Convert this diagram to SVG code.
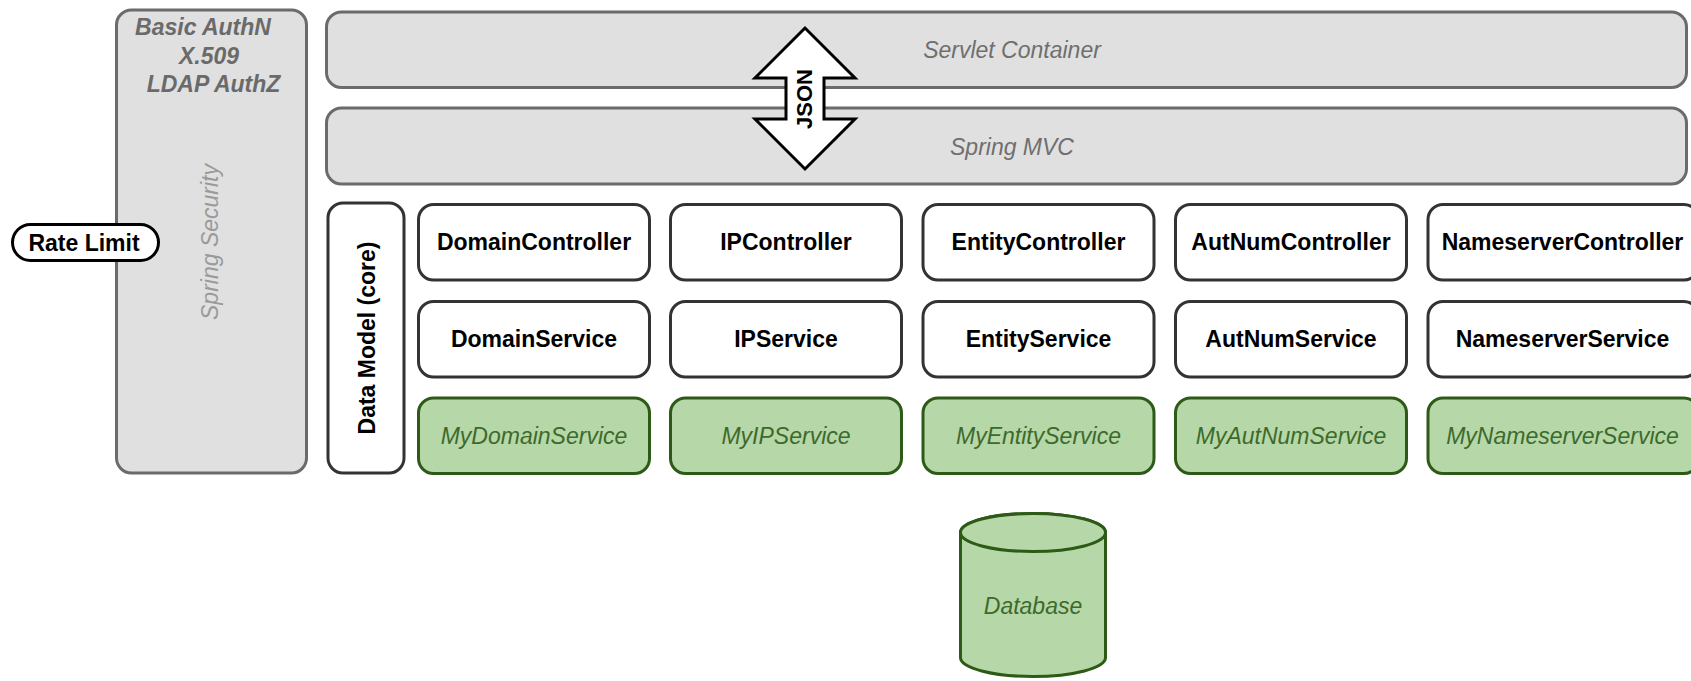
<svg xmlns="http://www.w3.org/2000/svg" width="1691" height="681" viewBox="0 0 1691 681">
<style>
text{font-family:"Liberation Sans",Arial,sans-serif;font-size:23px;text-anchor:middle}
.gray{fill:#e0e0e0;stroke:#6b6b6b;stroke-width:3}
.box{fill:#ffffff;stroke:#333333;stroke-width:3}
.green{fill:#b6d7a8;stroke:#2e5a17;stroke-width:3}
.gt{fill:#6f6f6f;font-style:italic}
.st{fill:#9a9a9a;font-style:italic}
.bt{fill:#000000;font-weight:bold}
.mt{fill:#3d6a2c;font-style:italic}
.auth{fill:#6a6a6a;font-style:italic;font-weight:bold}
</style>
<rect width="1691" height="681" fill="#ffffff"/>
<g id="spring-security">
<rect class="gray" x="116.5" y="10" width="190" height="463" rx="15"/>
<text class="auth" x="203" y="35">Basic AuthN</text>
<text class="auth" x="209" y="64">X.509</text>
<text class="auth" x="213.5" y="92">LDAP AuthZ</text>
<text class="st" transform="translate(218,242) rotate(-90)">Spring Security</text>
</g>
<g id="rate-limit">
<rect x="12.5" y="224.5" width="146" height="36" rx="18" fill="#ffffff" stroke="#000000" stroke-width="3"/>
<text class="bt" x="84" y="250.5">Rate Limit</text>
</g>
<g id="servlet-container">
<rect class="gray" x="326.5" y="12" width="1360" height="75.5" rx="15"/>
<text class="gt" x="1012" y="57.5">Servlet Container</text>
</g>
<g id="spring-mvc">
<rect class="gray" x="326.5" y="108" width="1360" height="76" rx="15"/>
<text class="gt" x="1012" y="154.5">Spring MVC</text>
</g>
<g id="json">
<polygon points="805,28 755,78 786,78 786,119 755,119 805,169 855,119 824,119 824,78 855,78" fill="#ffffff" stroke="#000000" stroke-width="3" stroke-linejoin="miter"/>
<text class="bt" style="font-size:22px" transform="translate(812,99) rotate(-90)">JSON</text>
</g>
<g id="data-model">
<rect class="box" x="328" y="203" width="76" height="270" rx="15"/>
<text class="bt" transform="translate(374.5,338) rotate(-90)">Data Model (core)</text>
</g>
<g id="domain-controller"><rect class="box" x="418.5" y="204.5" width="231" height="75.5" rx="15"/><text class="bt" x="534" y="250">DomainController</text></g>
<g id="ip-controller"><rect class="box" x="670.5" y="204.5" width="231" height="75.5" rx="15"/><text class="bt" x="786" y="250">IPController</text></g>
<g id="entity-controller"><rect class="box" x="923" y="204.5" width="231" height="75.5" rx="15"/><text class="bt" x="1038.5" y="250">EntityController</text></g>
<g id="autnum-controller"><rect class="box" x="1175.5" y="204.5" width="231" height="75.5" rx="15"/><text class="bt" x="1291" y="250">AutNumController</text></g>
<g id="nameserver-controller"><rect class="box" x="1428" y="204.5" width="271" height="75.5" rx="15"/><text class="bt" x="1562.5" y="250">NameserverController</text></g>
<g id="domain-service"><rect class="box" x="418.5" y="301.5" width="231" height="75.5" rx="15"/><text class="bt" x="534" y="347">DomainService</text></g>
<g id="ip-service"><rect class="box" x="670.5" y="301.5" width="231" height="75.5" rx="15"/><text class="bt" x="786" y="347">IPService</text></g>
<g id="entity-service"><rect class="box" x="923" y="301.5" width="231" height="75.5" rx="15"/><text class="bt" x="1038.5" y="347">EntityService</text></g>
<g id="autnum-service"><rect class="box" x="1175.5" y="301.5" width="231" height="75.5" rx="15"/><text class="bt" x="1291" y="347">AutNumService</text></g>
<g id="nameserver-service"><rect class="box" x="1428" y="301.5" width="271" height="75.5" rx="15"/><text class="bt" x="1562.5" y="347">NameserverService</text></g>
<g id="my-domain-service"><rect class="green" x="418.5" y="398" width="231" height="75.5" rx="15"/><text class="mt" x="534" y="444">MyDomainService</text></g>
<g id="my-ip-service"><rect class="green" x="670.5" y="398" width="231" height="75.5" rx="15"/><text class="mt" x="786" y="444">MyIPService</text></g>
<g id="my-entity-service"><rect class="green" x="923" y="398" width="231" height="75.5" rx="15"/><text class="mt" x="1038.5" y="444">MyEntityService</text></g>
<g id="my-autnum-service"><rect class="green" x="1175.5" y="398" width="231" height="75.5" rx="15"/><text class="mt" x="1291" y="444">MyAutNumService</text></g>
<g id="my-nameserver-service"><rect class="green" x="1428" y="398" width="271" height="75.5" rx="15"/><text class="mt" x="1562.5" y="444">MyNameserverService</text></g>
<g id="database">
<path class="green" d="M960.5,532.5 V657.5 A72.5,19 0 0 0 1105.5,657.5 V532.5 A72.5,19 0 0 0 960.5,532.5 Z"/>
<ellipse class="green" cx="1033" cy="532.5" rx="72.5" ry="19"/>
<text class="mt" x="1033" y="614">Database</text>
</g>
<g id="connectors"></g>
</svg>
